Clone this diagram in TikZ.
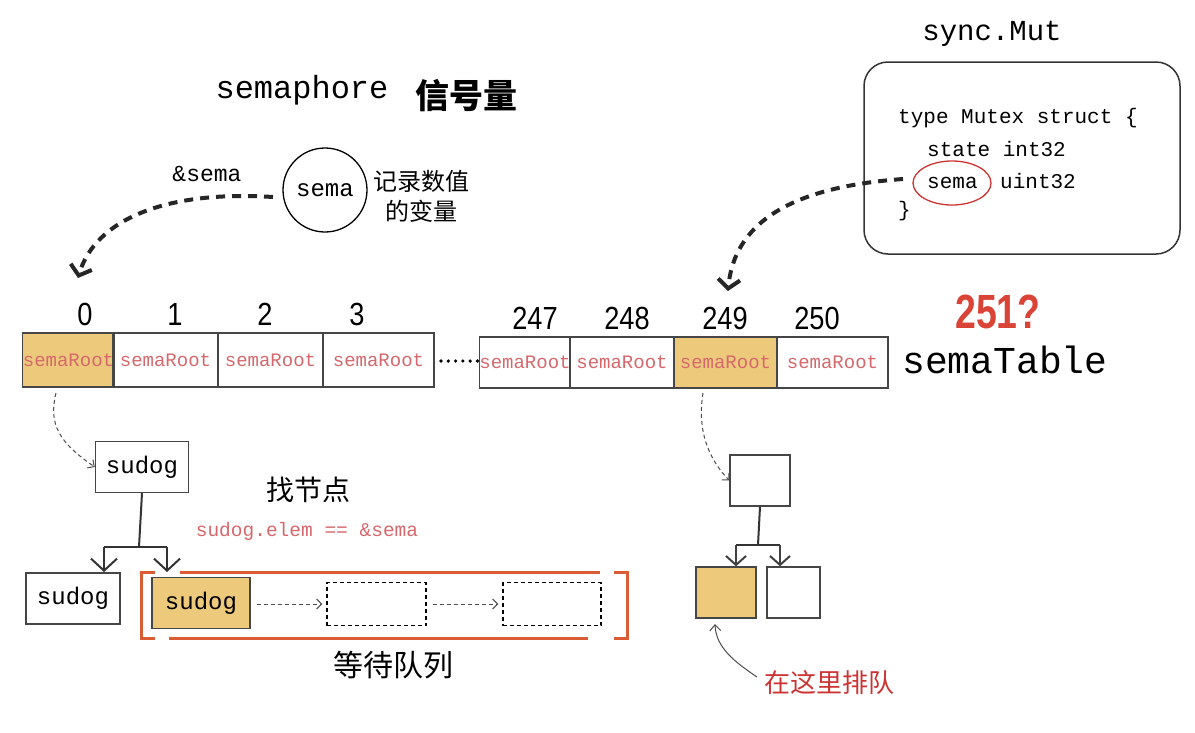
\documentclass[tikz,border=0pt]{standalone}
\usepackage{fontspec}
\setmainfont{Liberation Sans}
\setmonofont{Liberation Mono}
\newfontfamily\cjk{Noto Sans CJK SC}
\usetikzlibrary{arrows.meta,calc,shapes.geometric}
\newcommand\myfs[1]{\fontsize{#1pt}{#1pt}\selectfont}
\definecolor{rootred}{RGB}{214,104,108}
\definecolor{fillor}{RGB}{237,201,124}
\definecolor{brk}{RGB}{217,92,52}
\definecolor{red251}{RGB}{217,68,54}
\definecolor{ellred}{RGB}{204,52,52}
\definecolor{boxgray}{RGB}{70,70,70}
\begin{document}
\begin{tikzpicture}[x=1pt,y=-1pt,
  cell/.style={draw=boxgray,line width=1.1pt,inner sep=0pt,font=\ttfamily\myfs{19},text=rootred},
  idx/.style={inner sep=0pt,font=\myfs{32},xscale=0.85},
  sbox/.style={draw=boxgray,line width=1.4pt,inner sep=0pt,font=\ttfamily\myfs{24}},
  dbox/.style={draw=black,line width=1.3pt,dash pattern=on 4pt off 3pt,inner sep=0pt},
  bigarrow/.style={line width=4pt,color=black!85,dash pattern=on 9pt off 7pt,-{Straight Barb[length=9pt,width=22pt]}},
  smallarrow/.style={line width=1pt,color=black!70,dash pattern=on 4pt off 3pt,-{Straight Barb[length=5pt,width=10pt]}},
  treeline/.style={line width=2pt,color=black!80},
  treearrowL/.style={line width=2pt,color=black!80,-{Straight Barb[length=12pt,width=26pt]}},
  treearrowR/.style={line width=2pt,color=black!75,-{Straight Barb[length=9pt,width=20pt]}},
  bracket/.style={line width=3pt,color=brk},
  txt/.style={inner sep=0pt}
]
\useasboundingbox (0,0) rectangle (1195,732);
\fill[white] (0,0) rectangle (1195,732);

% title
\node[txt,font=\ttfamily\myfs{32}] (title) at (302,90) {semaphore};
\node[txt,font=\cjk\myfs{34}\bfseries] (titlecn) at (466,96) {信号量};

% sema circle
\node[circle,draw=black,line width=1.3pt,minimum size=84pt,inner sep=0pt,font=\ttfamily\myfs{24}] (sema) at (325,190) {sema};
\node[txt,font=\ttfamily\myfs{23}] (amp) at (207,174) {\&sema};
\node[txt,font=\cjk\myfs{24},align=center] (rec) at (421,196) {记录数值\\[6pt]的变量};

% sync.Mutex
\node[txt,font=\ttfamily\myfs{29}] (syncm) at (992,34) {sync.Mut};
\node[draw=black!80,line width=1.5pt,rounded corners=24pt,minimum width=316pt,minimum height=192pt] (mbox) at (1022,158) {};
\node[txt,font=\ttfamily\myfs{21},anchor=west] (m1) at (898,118) {type Mutex struct \{};
\node[txt,font=\ttfamily\myfs{21},anchor=west] (m2) at (927,149) {state int32};
\node[txt,font=\ttfamily\myfs{21},anchor=west] (m3) at (927,181) {sema\hspace{10pt} uint32};
\node[txt,font=\ttfamily\myfs{21},anchor=west] (m4) at (898,211) {\}};
\node[ellipse,draw=ellred,line width=1.3pt,minimum width=78pt,minimum height=44pt,inner sep=0pt] (ell) at (952,183) {};

% array indices
\node[idx] (l0) at (85,314) {0};
\node[idx] (l1) at (175,314) {1};
\node[idx] (l2) at (265,314) {2};
\node[idx] (l3) at (357,314) {3};
\node[idx] (l247) at (535,318) {247};
\node[idx] (l248) at (627,318) {248};
\node[idx] (l249) at (725,318) {249};
\node[idx] (l250) at (817,318) {250};
\node[txt,font=\myfs{48}\bfseries,xscale=0.78,text=red251] (q) at (998,312) {251?};
\node[txt,font=\ttfamily\myfs{38}] (stab) at (1005,360) {semaTable};

% cells
\node[cell,fill=fillor,minimum width=89pt,minimum height=54pt] (c0) at (68.5,360) {semaRoot};
\node[cell,minimum width=105pt,minimum height=54pt] (c1) at (165.5,360) {semaRoot};
\node[cell,minimum width=105pt,minimum height=54pt] (c2) at (270.5,360) {semaRoot};
\node[cell,minimum width=111pt,minimum height=54pt] (c3) at (378.5,360) {semaRoot};
\node[cell,minimum width=90pt,minimum height=51pt] (c247) at (525,362.5) {semaRoot};
\node[cell,minimum width=104pt,minimum height=51pt] (c248) at (622,362.5) {semaRoot};
\node[cell,fill=fillor,minimum width=103pt,minimum height=51pt] (c249) at (725.5,362.5) {semaRoot};
\node[cell,minimum width=111pt,minimum height=51pt] (c250) at (832.5,362.5) {semaRoot};
\foreach \i in {0,...,5} \fill (441+\i*7.3,361) circle (1.8pt);

% big dashed arrows
\coordinate (a1s) at (273,197);
\coordinate (a1e) at (78,278);
\draw[bigarrow] (a1s) .. controls (165,190) and (95,220) .. (a1e);
\coordinate (a2s) at (903,179);
\coordinate (a2e) at (728,291);
\draw[bigarrow] (a2s) .. controls (805,186) and (735,215) .. (a2e);

% left tree
\node[sbox,minimum width=93pt,minimum height=51pt] (s0) at (142,467) {sudog};
\node[sbox,minimum width=94pt,minimum height=51pt] (sL) at (73,598.5) {sudog};
\node[sbox,fill=fillor,minimum width=98pt,minimum height=51pt] (sF) at (201,603) {sudog};
\node[dbox,minimum width=99pt,minimum height=43pt] (d1) at (376.5,604) {};
\node[dbox,minimum width=98pt,minimum height=43pt] (d2) at (552,604) {};
\coordinate (j0) at (139,547);
\coordinate (jl) at (104,547);
\coordinate (jr) at (167,547);
\draw[treeline] (s0.south) -- (j0);
\draw[treeline] (jl) -- (jr);
\draw[treearrowL] (jl) -- (104,572);
\draw[treearrowL] (jr) -- (167,572);
\draw[smallarrow] ($(sF.east)+(6,1)$) -- ($(d1.west)+(-4,0)$);
\draw[smallarrow] ($(d1.east)+(6,0)$) -- ($(d2.west)+(-4,0)$);
\coordinate (sa1) at (56,393);
\draw[smallarrow] (sa1) .. controls (48,425) and (60,443) .. (s0.west);

% bracket
\draw[bracket] (155,572) -- (141,572) -- (141,638) -- (155,638);
\draw[bracket] (180,572) -- (600,572);
\draw[bracket] (169,638) -- (588,638);
\draw[bracket] (614,572) -- (627,572) -- (627,638) -- (614,638);

\node[txt,font=\cjk\myfs{28}] (find) at (308,490) {找节点};
\node[txt,font=\ttfamily\myfs{19.5},text=rootred] (cond) at (307,531) {sudog.elem == \&sema};
\node[txt,font=\cjk\myfs{30}] (queue) at (393,665) {等待队列};

% right tree
\node[draw=boxgray,line width=1.4pt,minimum width=60pt,minimum height=51pt,inner sep=0pt] (r0) at (760,480.5) {};
\node[draw=boxgray,line width=1.4pt,fill=fillor,minimum width=60pt,minimum height=51pt,inner sep=0pt] (rL) at (726,592.5) {};
\node[draw=boxgray,line width=1.4pt,minimum width=53pt,minimum height=51pt,inner sep=0pt] (rR) at (793.5,592.5) {};
\coordinate (k0) at (758,545);
\coordinate (kl) at (736,545);
\coordinate (kr) at (780,545);
\draw[treeline] (r0.south) -- (k0);
\draw[treeline] (kl) -- (kr);
\draw[treearrowR] (kl) -- (kl |- rL.north);
\draw[treearrowR] (kr) -- (kr |- rR.north);
\coordinate (sa2) at (703,393);
\draw[smallarrow] (sa2) .. controls (697,430) and (708,458) .. (r0.west);
\node[txt,font=\cjk\myfs{26},text=ellred] (here) at (829,683) {在这里排队};
\coordinate (hs) at (757,677);
\draw[line width=1pt,color=black!70,-{Straight Barb[length=6pt,width=11pt]}] (hs) .. controls (735,662) and (716,648) .. (715,624);
\end{tikzpicture}
\end{document}
